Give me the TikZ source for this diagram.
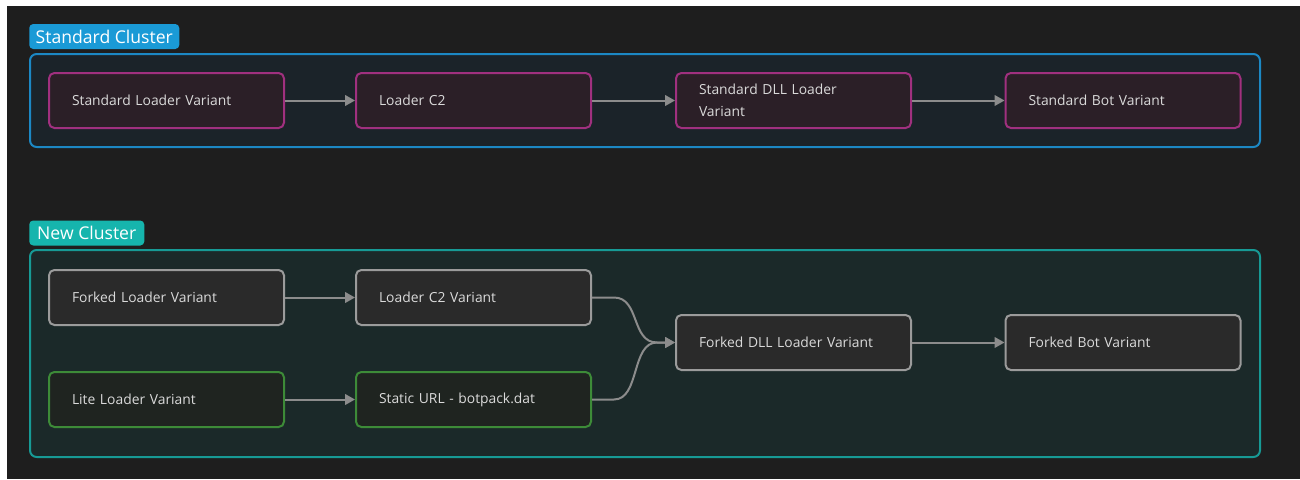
\documentclass[tikz,border=0pt]{standalone}
\usepackage{fontspec}
\setmainfont{Open Sans}
\usetikzlibrary{arrows.meta,positioning,calc}
\definecolor{fondo}{HTML}{1E1E1E}
\definecolor{stdblue}{HTML}{1C88C4}
\definecolor{stdtagfill}{HTML}{1A9AD6}
\definecolor{stdfill}{HTML}{1B2329}
\definecolor{newteal}{HTML}{179A95}
\definecolor{newtagfill}{HTML}{16B5AD}
\definecolor{newfill}{HTML}{1B2929}
\definecolor{magborder}{HTML}{A0307F}
\definecolor{magfill}{HTML}{2B1F27}
\definecolor{grayborder}{HTML}{9B9B9B}
\definecolor{grayfill}{HTML}{2A2A2A}
\definecolor{greenborder}{HTML}{3D8B38}
\definecolor{greenfill}{HTML}{1F2420}
\definecolor{nodetext}{HTML}{DADADA}
\definecolor{flowgray}{HTML}{8C8C8C}
\tikzset{
  box/.style={draw, line width=1.5pt, rounded corners=4pt,
    minimum width=176.25pt, minimum height=41.25pt, text width=141.75pt,
    inner xsep=17.25pt, align=left, text=nodetext,
    font=\fontsize{10.4}{16.5}\selectfont},
  stdbox/.style={box, draw=magborder, fill=magfill},
  forkbox/.style={box, draw=grayborder, fill=grayfill},
  litebox/.style={box, draw=greenborder, fill=greenfill},
  cluster/.style={line width=1.5pt, rounded corners=5pt},
  tag/.style={anchor=west, text=white, rounded corners=3pt,
    minimum height=18.75pt, inner xsep=4.2pt, inner ysep=0pt,
    font=\fontsize{13.2}{15}\selectfont},
  flow/.style={draw=flowgray, line width=1.5pt,
    -{Triangle[length=7.5pt,width=8pt]}}
}
\begin{document}
\begin{tikzpicture}[x=0.75pt,y=-0.75pt]
\useasboundingbox (0,0) rectangle (1300,479);
\fill[white] (0,0) rectangle (1300,479);
\fill[fondo] (7,6) rectangle (1300,479);

% standard cluster
\draw[cluster, draw=stdblue, fill=stdfill] (30,54) rectangle (1260,147);
\node[tag, fill=stdtagfill, minimum width=112.5pt] (stdtag) at (29,36.5) {Standard Cluster};

\node[stdbox] (stdloader) at (166.5,100.5) {Standard Loader Variant};
\node[stdbox] (stdc2) at (473.5,100.5) {Loader C2};
\node[stdbox] (stddll) at (793.5,100.5) {Standard DLL Loader\\Variant};
\node[stdbox] (stdbot) at (1123,100.5) {Standard Bot Variant};

\draw[flow] (stdloader) -- (stdc2);
\draw[flow] (stdc2) -- (stddll);
\draw[flow] (stddll) -- (stdbot);

% new cluster
\draw[cluster, draw=newteal, fill=newfill] (30,250) rectangle (1260,457);
\node[tag, fill=newtagfill, minimum width=86.25pt] (newtag) at (29,233) {New Cluster};

\node[forkbox] (forkloader) at (166.5,297.5) {Forked Loader Variant};
\node[forkbox] (forkc2) at (473.5,297.5) {Loader C2 Variant};
\node[litebox] (liteloader) at (166.5,399.5) {Lite Loader Variant};
\node[litebox] (staticurl) at (473.5,399.5) {Static URL - botpack.dat};
\node[forkbox] (forkdll) at (793.5,342.5) {Forked DLL Loader Variant};
\node[forkbox] (forkbot) at (1123,342.5) {Forked Bot Variant};

\draw[flow] (forkloader) -- (forkc2);
\draw[flow] (liteloader) -- (staticurl);
\draw[flow] (forkc2.east) -- ++(22,0) .. controls +(26,0) and +(-26,0) .. ($(forkdll.west)+(-18,0)$) -- (forkdll.west);
\draw[flow] (staticurl.east) -- ++(22,0) .. controls +(26,0) and +(-26,0) .. ($(forkdll.west)+(-18,0)$) -- (forkdll.west);
\draw[flow] (forkdll) -- (forkbot);
\end{tikzpicture}
\end{document}
